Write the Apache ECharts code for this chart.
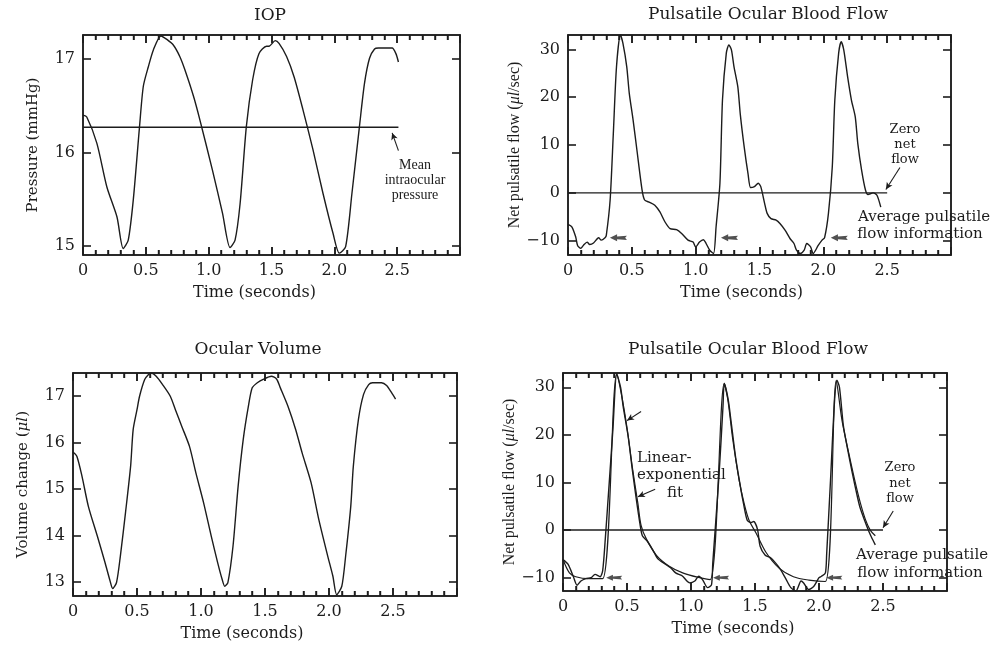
<!DOCTYPE html>
<html><head><meta charset="utf-8">
<script src="https://cdn.jsdelivr.net/npm/echarts@6/dist/echarts.min.js"></script>
<style>html,body{margin:0;padding:0;background:#fff}#c{width:1004px;height:647px}</style>
</head><body><div id="c"></div>
<script>
// ---------- data ----------
const iopTime = [0, 0.03, 0.11, 0.19, 0.27, 0.32, 0.36, 0.40, 0.45, 0.48, 0.52, 0.56, 0.62, 0.67, 0.72, 0.77, 0.81, 0.88, 0.93, 1.03, 1.11, 1.17, 1.21, 1.25, 1.30, 1.35, 1.40, 1.46, 1.48, 1.53, 1.56, 1.62, 1.68, 1.75, 1.83, 1.91, 1.99, 2.04, 2.09, 2.14, 2.20, 2.24, 2.28, 2.32, 2.35, 2.40, 2.46, 2.49, 2.51];
const iopPressure = [16.40, 16.38, 16.10, 15.63, 15.31, 14.97, 15.06, 15.49, 16.28, 16.71, 16.92, 17.10, 17.25, 17.21, 17.15, 17.03, 16.89, 16.60, 16.35, 15.81, 15.35, 14.98, 15.06, 15.45, 16.28, 16.78, 17.06, 17.14, 17.14, 17.20, 17.17, 17.03, 16.81, 16.46, 16.03, 15.56, 15.13, 14.92, 14.99, 15.56, 16.28, 16.74, 17.01, 17.11, 17.12, 17.12, 17.12, 17.06, 16.97];
const iopMeanTime = [0, 2.51];
const iopMeanValue = [16.27, 16.27];

const flowTime = [0, 0.03, 0.06, 0.075, 0.10, 0.12, 0.15, 0.17, 0.20, 0.24, 0.26, 0.29, 0.30, 0.33, 0.355, 0.38, 0.41, 0.43, 0.46, 0.48, 0.51, 0.54, 0.58, 0.60, 0.64, 0.68, 0.72, 0.76, 0.80, 0.85, 0.89, 0.94, 0.98, 1.00, 1.03, 1.06, 1.08, 1.11, 1.14, 1.16, 1.19, 1.21, 1.24, 1.26, 1.28, 1.30, 1.33, 1.35, 1.38, 1.41, 1.43, 1.46, 1.49, 1.51, 1.54, 1.56, 1.59, 1.63, 1.66, 1.70, 1.74, 1.77, 1.79, 1.82, 1.85, 1.87, 1.90, 1.92, 1.96, 1.99, 2.01, 2.04, 2.07, 2.09, 2.12, 2.14, 2.16, 2.19, 2.22, 2.25, 2.27, 2.30, 2.33, 2.35, 2.39, 2.42, 2.45];
const flowValue = [-6.6, -7.1, -9.2, -11.0, -11.6, -11.0, -10.3, -10.8, -10.5, -9.4, -9.9, -9.4, -8.9, -1.5, 12.4, 26.4, 33.0, 31.3, 26.4, 20.8, 15.2, 8.9, 0.6, -1.5, -2.0, -2.6, -4.0, -6.1, -7.5, -7.7, -8.5, -9.9, -10.3, -11.3, -10.3, -9.8, -10.5, -12.0, -12.7, -7.1, 2.0, 19.4, 29.2, 30.9, 29.9, 26.4, 22.2, 16.3, 9.6, 4.0, 1.1, 1.3, 2.0, 1.3, -2.2, -4.3, -5.4, -5.7, -6.4, -7.8, -9.6, -10.6, -12.0, -12.7, -12.0, -10.6, -11.3, -12.7, -11.0, -9.9, -9.35, -4.3, 5.4, 19.4, 29.2, 31.6, 29.9, 24.3, 19.4, 15.9, 10.3, 4.7, 0.6, -0.35, 0, -0.5, -3.0];
const zeroTime = [0, 2.5];
const zeroValue = [0, 0];
const flowArrowTime = [0.395, 1.265, 2.125];
const flowArrowValue = [-9.4, -9.4, -9.4];

const volTime = [0, 0.03, 0.07, 0.12, 0.19, 0.25, 0.29, 0.31, 0.34, 0.37, 0.41, 0.45, 0.47, 0.50, 0.52, 0.56, 0.59, 0.61, 0.65, 0.70, 0.76, 0.80, 0.85, 0.91, 0.96, 1.02, 1.08, 1.13, 1.165, 1.185, 1.21, 1.25, 1.29, 1.33, 1.37, 1.40, 1.44, 1.49, 1.55, 1.59, 1.62, 1.68, 1.74, 1.79, 1.86, 1.92, 1.99, 2.03, 2.06, 2.10, 2.13, 2.17, 2.19, 2.23, 2.27, 2.31, 2.34, 2.41, 2.45, 2.49, 2.52];
const volValue = [15.80, 15.71, 15.28, 14.63, 13.99, 13.42, 13.02, 12.86, 12.99, 13.56, 14.49, 15.49, 16.28, 16.71, 17.0, 17.36, 17.47, 17.50, 17.43, 17.25, 17.0, 16.71, 16.35, 15.92, 15.35, 14.71, 13.99, 13.42, 13.06, 12.91, 12.99, 13.77, 15.06, 16.07, 16.78, 17.18, 17.29, 17.37, 17.43, 17.37, 17.18, 16.78, 16.28, 15.78, 15.14, 14.35, 13.56, 13.13, 12.73, 12.91, 13.56, 14.63, 15.49, 16.50, 17.04, 17.25, 17.29, 17.29, 17.23, 17.07, 16.94];

const fitFlowTime = [0, 0.04, 0.08, 0.11, 0.14, 0.18, 0.22, 0.25, 0.29, 0.31, 0.33, 0.36, 0.39, 0.42, 0.45, 0.47, 0.51, 0.54, 0.57, 0.60, 0.62, 0.66, 0.70, 0.74, 0.79, 0.84, 0.88, 0.93, 0.99, 1.03, 1.06, 1.09, 1.13, 1.16, 1.17, 1.19, 1.22, 1.25, 1.26, 1.29, 1.31, 1.35, 1.39, 1.41, 1.44, 1.47, 1.49, 1.52, 1.54, 1.58, 1.62, 1.66, 1.70, 1.74, 1.78, 1.82, 1.86, 1.88, 1.92, 1.96, 2.00, 2.02, 2.05, 2.06, 2.09, 2.12, 2.14, 2.16, 2.19, 2.22, 2.26, 2.30, 2.32, 2.35, 2.39, 2.41, 2.44];
const fitFlowValue = [-6.2, -7.2, -9.7, -11.6, -10.7, -10.2, -10.0, -9.3, -9.8, -8.5, -2.0, 9.5, 21.2, 32.8, 30.0, 26.0, 19.5, 13.0, 7.0, 1.5, -1.2, -2.4, -4.1, -6.0, -7.0, -7.9, -9.0, -9.6, -11.1, -10.7, -9.7, -10.4, -12.1, -11.5, -7.0, 0.5, 12.0, 26.0, 30.8, 27.5, 23.5, 15.0, 8.5, 5.6, 2.0, 1.6, 1.8, 0.1, -3.4, -5.3, -5.8, -6.9, -8.3, -10.2, -12.1, -12.8, -10.7, -11.1, -12.5, -11.8, -10.0, -9.7, -9.0, -5.0, 10.5, 26.5, 31.5, 30.0, 22.0, 17.5, 12.0, 7.0, 4.8, 2.5, -0.3, -1.5, -3.1];
const linExpTime = [0, 0.05, 0.10, 0.20, 0.31, 0.42, 0.46, 0.50, 0.545, 0.585, 0.61, 0.65, 0.73, 0.83, 0.935, 1.05, 1.15, 1.26, 1.29, 1.324, 1.376, 1.415, 1.454, 1.506, 1.584, 1.688, 1.80, 1.92, 2.05, 2.135, 2.18, 2.233, 2.285, 2.324, 2.363, 2.40, 2.44];
const linExpValue = [-6.2, -9.0, -9.8, -10.2, -10.2, 32.8, 28.0, 21.5, 12.6, 5.6, 1.0, -1.8, -5.3, -7.6, -9.0, -9.9, -10.4, 30.8, 27.0, 19.5, 10.5, 5.6, 2.0, -0.5, -4.6, -8.0, -9.8, -10.5, -10.8, 31.4, 23.0, 16.1, 9.8, 5.6, 2.2, 0, -1.2];
const fitArrowTime = [0.40, 1.235, 2.12];
const fitArrowValue = [-10.0, -10.0, -10.0];

const timeTicks = [0, 0.5, 1.0, 1.5, 2.0, 2.5];
const timeTickLabels = ['0', '0.5', '1.0', '1.5', '2.0', '2.5'];
const frameTimeTicks = [0.1, 0.2, 0.3, 0.4, 0.5, 0.6, 0.7, 0.8, 0.9, 1.0, 1.1, 1.2, 1.3, 1.4, 1.5, 1.6, 1.7, 1.8, 1.9, 2.0, 2.1, 2.2, 2.3, 2.4, 2.5, 2.6, 2.7, 2.8, 2.9];
const iopTicks = [15, 16, 17];
const volTicks = [13, 14, 15, 16, 17];
const flowTicks = [-10, 0, 10, 20, 30];
const flowTickLabels = ['\u221210', '0', '10', '20', '30'];
const yRanges = [[14.9, 17.26], [-13, 33], [12.7, 17.5], [-12.8, 33]];

// ---------- helpers ----------
const INK = '#1c1c1c';
const SERIF = '"DejaVu Serif", serif';
const TIMES = '"Liberation Serif", serif';
const zip = (a, b) => a.map((v, i) => [v, b[i]]);

const gridBoxes = [
  { left: 83, top: 35, width: 377, height: 220 },
  { left: 568, top: 35, width: 383, height: 220 },
  { left: 73, top: 373, width: 384, height: 223 },
  { left: 563, top: 373, width: 384, height: 218 }
];

function xAxes(gi, nameShift) {
  const base = {
    type: 'value', gridIndex: gi, min: 0, max: 3, interval: 0.5,
    axisLine: { show: true, onZero: false, lineStyle: { color: INK, width: 1.5 } },
    axisTick: { show: true, inside: true, length: 8, lineStyle: { color: INK, width: 1.6 } },
    minorTick: { show: true, splitNumber: 5, length: 5, lineStyle: { color: INK, width: 1.4 } },
    splitLine: { show: false }, minorSplitLine: { show: false }
  };
  return [
    Object.assign({}, base, {
      position: 'bottom',
      axisLabel: {
        show: true, color: INK, fontFamily: SERIF, fontSize: 16, margin: 8,
        formatter: v => { const i = timeTicks.findIndex(t => Math.abs(t - v) < 1e-6); return i >= 0 ? timeTickLabels[i] : ''; }
      },
      name: 'Time (seconds)', nameLocation: 'middle', nameGap: 30,
      nameTextStyle: { color: INK, fontFamily: SERIF, fontSize: 16, padding: [0, nameShift, 0, 0], verticalAlign: 'top' }
    }),
    Object.assign({}, base, { position: 'top', axisLabel: { show: false } })
  ];
}
function yAxes(gi, ticks, labels, name, gap) {
  const common = {
    type: 'value', gridIndex: gi, min: yRanges[gi][0], max: yRanges[gi][1],
    axisLine: { show: true, onZero: false, lineStyle: { color: INK, width: 1.5 } },
    axisTick: { show: true, inside: true, length: 8, customValues: ticks, lineStyle: { color: INK, width: 1.6 } },
    splitLine: { show: false }
  };
  return [
    Object.assign({}, common, {
      position: 'left',
      axisLabel: {
        show: true, customValues: ticks, color: INK, fontFamily: SERIF, fontSize: 16, margin: 8,
        formatter: v => { const i = ticks.findIndex(t => Math.abs(t - v) < 1e-6); return i >= 0 ? labels[i] : ''; }
      },
      name: name.text, nameLocation: 'middle', nameGap: gap,
      nameTextStyle: name.style
    }),
    Object.assign({}, common, { position: 'right', axisLabel: { show: false } })
  ];
}
function lineSeries(gi, data, extra) {
  return Object.assign({
    type: 'line', xAxisIndex: gi * 2, yAxisIndex: gi * 2, data: data,
    showSymbol: false, symbol: 'none', smooth: 0.25, clip: true, silent: true,
    lineStyle: { color: INK, width: 1.4 }
  }, extra || {});
}
// inward time ticks on the top and bottom frame edges, as short segments through the axes
function frameTickSeries(gi) {
  const lo = yRanges[gi][0], hi = yRanges[gi][1];
  const perPx = (hi - lo) / gridBoxes[gi].height;
  const segs = [];
  frameTimeTicks.forEach(v => {
    const major = timeTicks.some(t => Math.abs(t - v) < 1e-6);
    const len = (major ? 8 : 5) * perPx;
    segs.push([{ coord: [v, lo] }, { coord: [v, lo + len] }]);
    segs.push([{ coord: [v, hi] }, { coord: [v, hi - len] }]);
  });
  return lineSeries(gi, [[0, lo], [0, lo]], {
    smooth: false, lineStyle: { width: 0, opacity: 0 }, z: 4,
    markLine: { silent: true, symbol: ['none', 'none'], label: { show: false }, animation: false,
      lineStyle: { color: INK, width: 1.5, type: 'solid' }, emphasis: { disabled: true }, data: segs }
  });
}
function pointer(from, to) {
  return [{ coord: from }, { coord: to }];
}
const ARROW = 'path://M0,5 L8,0 L8,3 L19,2 L17,5 L19,8 L8,7 L8,10 Z';

const yNameStyle = (font, size) => ({
  color: INK,
  rich: {
    a: { fontFamily: font, fontSize: size, color: INK },
    b: { fontFamily: font, fontSize: size, color: INK, fontStyle: 'italic' }
  }
});

const grids = gridBoxes.map(g => Object.assign({ show: true, borderColor: INK, borderWidth: 1.5 }, g));

const xAxis = [].concat(xAxes(0, 34), xAxes(1, 36), xAxes(2, 46), xAxes(3, 44));
const yAxis = [].concat(
  yAxes(0, iopTicks, iopTicks.map(String), { text: '{a|Pressure (mmHg)}', style: yNameStyle(SERIF, 15) }, 42),
  yAxes(1, flowTicks, flowTickLabels, { text: '{a|Net pulsatile flow (}{b|\u03bcl}{a|/sec)}', style: yNameStyle(TIMES, 16) }, 44),
  yAxes(2, volTicks, volTicks.map(String), { text: '{a|Volume change (}{b|\u03bcl}{a|)}', style: yNameStyle(SERIF, 15) }, 42),
  yAxes(3, flowTicks, flowTickLabels, { text: '{a|Net pulsatile flow (}{b|\u03bcl}{a|/sec)}', style: yNameStyle(TIMES, 16) }, 42)
);

const pointerStyle = { silent: true, symbol: ['none', 'arrow'], symbolSize: [5, 7], label: { show: false }, lineStyle: { color: INK, width: 1.1, type: 'solid' }, animation: false };

const series = [
  lineSeries(0, zip(iopTime, iopPressure)),
  lineSeries(0, zip(iopMeanTime, iopMeanValue), { smooth: false,
    markLine: Object.assign({ data: [pointer([2.51, 16.02], [2.46, 16.21])] }, pointerStyle) }),
  lineSeries(1, zip(flowTime, flowValue)),
  lineSeries(1, zip(zeroTime, zeroValue), { smooth: false,
    markLine: Object.assign({ data: [pointer([2.60, 5.3], [2.49, 0.7])] }, pointerStyle) }),
  { type: 'scatter', xAxisIndex: 2, yAxisIndex: 2, data: zip(flowArrowTime, flowArrowValue), symbol: ARROW, symbolSize: [17, 7], itemStyle: { color: '#262626' }, silent: true },
  lineSeries(2, zip(volTime, volValue)),
  lineSeries(3, zip(fitFlowTime, fitFlowValue)),
  lineSeries(3, zip(linExpTime, linExpValue), { smooth: 0.3, lineStyle: { color: INK, width: 1.2 } }),
  lineSeries(3, zip(zeroTime, zeroValue), { smooth: false,
    markLine: Object.assign({ data: [
      pointer([0.61, 24.9], [0.50, 23.0]),
      pointer([0.72, 8.6], [0.585, 7.0]),
      pointer([2.58, 4.0], [2.50, 0.5])
    ] }, pointerStyle) }),
  { type: 'scatter', xAxisIndex: 6, yAxisIndex: 6, data: zip(fitArrowTime, fitArrowValue), symbol: ARROW, symbolSize: [16, 6], itemStyle: { color: '#262626' }, silent: true }
].concat([0, 1, 2, 3].map(frameTickSeries));

const t = (x, y, text, font, align) => ({ type: 'text', x: x, y: y, silent: true,
  style: { text: text, font: font, fill: INK, align: align || 'center', verticalAlign: 'middle' } });

const graphic = [
  t(270, 16, 'IOP', '17px ' + SERIF),
  t(768, 15, 'Pulsatile Ocular Blood Flow', '17px ' + SERIF),
  t(258, 350, 'Ocular Volume', '17px ' + SERIF),
  t(748, 350, 'Pulsatile Ocular Blood Flow', '17px ' + SERIF),
  t(415, 165, 'Mean', '14px ' + TIMES),
  t(415, 180, 'intraocular', '14px ' + TIMES),
  t(415, 195, 'pressure', '14px ' + TIMES),
  t(905, 130, 'Zero', '13px ' + SERIF),
  t(905, 145, 'net', '13px ' + SERIF),
  t(905, 160, 'flow', '13px ' + SERIF),
  t(924, 217, 'Average pulsatile', '15px ' + SERIF),
  t(920, 234, 'flow information', '15px ' + SERIF),
  t(900, 468, 'Zero', '13px ' + SERIF),
  t(900, 484, 'net', '13px ' + SERIF),
  t(900, 499, 'flow', '13px ' + SERIF),
  t(922, 555, 'Average pulsatile', '15px ' + SERIF),
  t(920, 573, 'flow information', '15px ' + SERIF),
  t(637, 458, 'Linear-', '15px ' + SERIF, 'left'),
  t(637, 475, 'exponential', '15px ' + SERIF, 'left'),
  t(675, 493, 'fit', '15px ' + SERIF)
];

const chart = echarts.init(document.getElementById('c'));
chart.setOption({
  animation: false,
  grid: grids,
  xAxis: xAxis,
  yAxis: yAxis,
  series: series,
  graphic: graphic
});
</script>
</body></html>
